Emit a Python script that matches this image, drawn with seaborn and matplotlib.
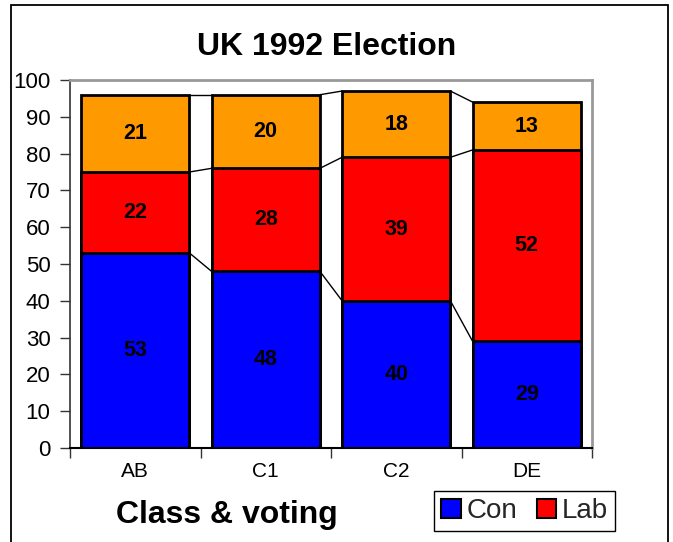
import matplotlib
matplotlib.use("Agg")
import numpy as np
import pandas as pd
import seaborn as sns
import matplotlib.pyplot as plt
from matplotlib.patches import Rectangle, Patch

# Vote share (%) by social class, UK general election 1992
classes = ["AB", "C1", "C2", "DE"]
con = [53, 48, 40, 29]
lab = [22, 28, 39, 52]
ld = [21, 20, 18, 13]

CON_COLOR = "#0000FF"
LAB_COLOR = "#FF0000"
LD_COLOR = "#FF9900"

sns.set_theme(style="white")
plt.rcParams["font.family"] = ["Liberation Sans", "DejaVu Sans"]

df = pd.DataFrame({"cls": classes, "Con": con, "Lab": lab, "LD": ld})
df["top_con"] = df["Con"]
df["top_lab"] = df["Con"] + df["Lab"]
df["top_ld"] = df["Con"] + df["Lab"] + df["LD"]

fig = plt.figure(figsize=(6.73, 5.42), dpi=100)
ax = fig.add_axes([70 / 673, 94 / 542, 522 / 673, 368 / 542])

W = 0.83
# stacked bars drawn from the tallest cumulative layer down
for col, color in [("top_ld", LD_COLOR), ("top_lab", LAB_COLOR), ("top_con", CON_COLOR)]:
    sns.barplot(data=df, x="cls", y=col, color=color, saturation=1, width=W,
                edgecolor="black", linewidth=2, ax=ax, zorder=2)

# series lines joining segment tops of neighbouring bars
for col in ["top_con", "top_lab", "top_ld"]:
    levels = df[col].to_numpy()
    for i in range(len(levels) - 1):
        ax.plot([i + W / 2, i + 1 - W / 2], [levels[i], levels[i + 1]],
                color="black", lw=1, zorder=1)

# value labels centred in each segment
for i, row in df.iterrows():
    for val, base in [(row["Con"], 0), (row["Lab"], row["top_con"]), (row["LD"], row["top_lab"])]:
        ax.text(i, base + val / 2, f"{val}", ha="center", va="center",
                fontsize=15.5, fontweight="bold", color="black", zorder=3)

ax.set_xlim(-0.5, len(classes) - 0.5)
ax.set_ylim(0, 100)
ax.set_yticks(np.arange(0, 101, 10))
ax.set_xlabel("")
ax.set_ylabel("")

ax.set_xticks(np.arange(-0.5, len(classes), 1.0), minor=True)
ax.tick_params(axis="x", which="major", length=0, pad=10, labelsize=15, colors="black")
ax.tick_params(axis="x", which="minor", length=7, width=1, direction="out",
               color="#333333", bottom=True)
ax.tick_params(axis="y", which="major", length=7, width=1, direction="out",
               color="#333333", left=True, pad=7, labelsize=16, labelcolor="black")

for side in ["top", "right"]:
    ax.spines[side].set_color("#999999")
    ax.spines[side].set_linewidth(2)
ax.spines["left"].set_color("#333333")
ax.spines["left"].set_linewidth(1.2)
ax.spines["bottom"].set_color("black")
ax.spines["bottom"].set_linewidth(1.5)
ax.grid(False)

fig.text(327 / 673, 1 - 47 / 542, "UK 1992 Election", ha="center", va="center",
         fontsize=23, fontweight="bold", color="black")
fig.text(227 / 673, 1 - 515 / 542, "Class & voting", ha="center", va="center",
         fontsize=23, fontweight="bold", color="black")

handles = [Patch(facecolor=CON_COLOR, edgecolor="black", linewidth=1.5, label="Con"),
           Patch(facecolor=LAB_COLOR, edgecolor="black", linewidth=1.5, label="Lab")]
leg = fig.legend(handles=handles, loc="center", ncol=2,
                 bbox_to_anchor=((422 + 627) / 2 / 673, 1 - 511 / 542),
                 frameon=True, fancybox=False, edgecolor="black", framealpha=1,
                 fontsize=20, handlelength=0.7, handleheight=0.7,
                 handletextpad=0.2, columnspacing=0.7, borderpad=0.25)
leg.get_frame().set_linewidth(1)

fig.patches.append(Rectangle((11 / 673, -0.05), (668 - 11) / 673, 1.05 - 5 / 542,
                             transform=fig.transFigure, fill=False,
                             edgecolor="black", linewidth=1.3))

fig.savefig("out.png", dpi=100)
